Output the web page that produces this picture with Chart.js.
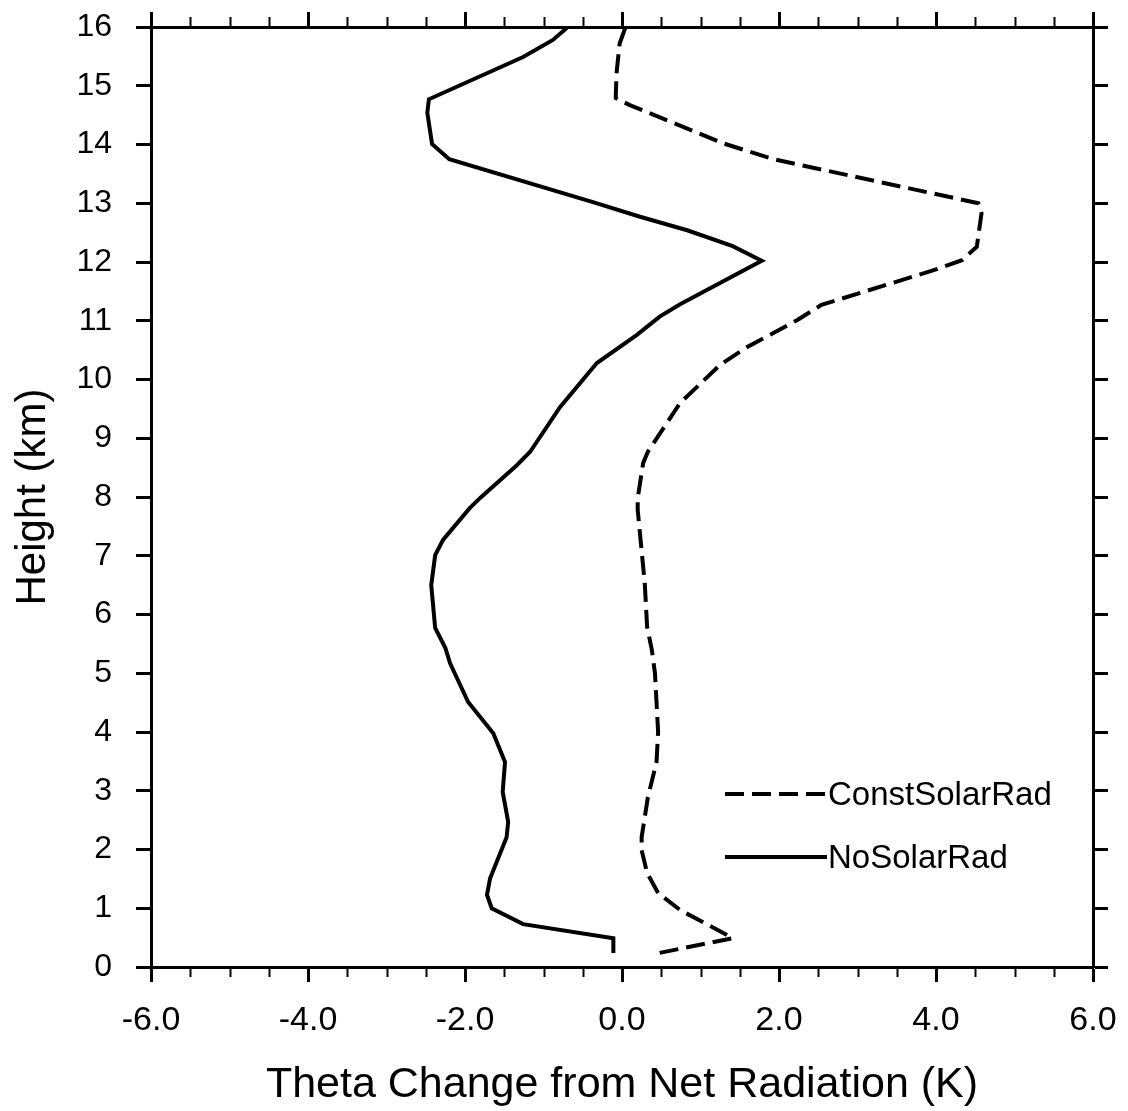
<!DOCTYPE html>
<html>
<head>
<meta charset="utf-8">
<script src="https://cdn.jsdelivr.net/npm/chart.js@4.4.1/dist/chart.umd.min.js"></script>
<style>
  html, body { margin: 0; padding: 0; background: #fff; }
  #wrap { width: 1128px; height: 1111px; position: relative; }
</style>
</head>
<body>
<div id="wrap"><canvas id="thetaChart"></canvas></div>
<script>
// values (height in km, theta change in K)
const heightNoSolar = [0.24, 0.49, 0.73, 1.0, 1.23, 1.51, 2.21, 2.47, 2.98, 3.49, 3.98, 4.51, 5.17, 5.43, 5.77, 6.5, 7.01, 7.27, 7.81, 7.98, 8.54, 8.77, 9.53, 10.28, 10.76, 11.07, 11.28, 12.02, 12.27, 12.54, 12.77, 13.02, 13.75, 14.01, 14.54, 14.77, 15.49, 15.78, 16.0];
const thetaNoSolar = [-0.11, -0.11, -1.26, -1.66, -1.72, -1.68, -1.47, -1.45, -1.52, -1.49, -1.64, -1.96, -2.19, -2.25, -2.38, -2.43, -2.38, -2.28, -1.94, -1.81, -1.34, -1.17, -0.79, -0.32, 0.19, 0.48, 0.74, 1.78, 1.41, 0.83, 0.23, -0.37, -2.2, -2.42, -2.48, -2.46, -1.26, -0.88, -0.69];

const heightConstSolar = [0.24, 0.49, 0.58, 0.97, 1.26, 1.6, 1.99, 2.21, 2.89, 3.49, 4.0, 5.0, 5.4, 5.79, 6.53, 7.78, 7.98, 8.58, 8.77, 9.6, 10.25, 10.55, 11.01, 11.27, 11.86, 12.03, 12.26, 12.83, 13.0, 13.75, 14.02, 14.67, 14.79, 15.21, 15.72, 15.98];
const thetaConstSolar = [0.48, 1.41, 1.29, 0.74, 0.46, 0.32, 0.25, 0.25, 0.33, 0.44, 0.46, 0.42, 0.38, 0.32, 0.29, 0.2, 0.2, 0.27, 0.33, 0.74, 1.25, 1.59, 2.23, 2.54, 3.97, 4.33, 4.52, 4.58, 4.54, 1.93, 1.29, 0.1, -0.08, -0.07, -0.03, 0.04];

const seriesNames = ['ConstSolarRad', 'NoSolarRad'];
const xMin = -6, xMax = 6, xMajor = 2, xMinor = 0.5;
const yMin = 0, yMax = 16, yMajor = 1;

const FONT = '"Liberation Sans", Arial, Helvetica, sans-serif';

function toPoints(xs, ys) {
    return xs.map((x, i) => ({ x: x, y: ys[i] }));
}

// fixed box size for a scale, and no extra room for overhanging labels
function fixBox(size, horizontal) {
    return s => {
        if (horizontal) s.height = size; else s.width = size;
        s.paddingTop = 0;
        s.paddingBottom = 0;
        s.paddingLeft = 0;
        s.paddingRight = 0;
    };
}

// minor ticks on the bottom and top x axes
const minorTicks = {
    id: 'minorTicks',
    afterDraw(chart) {
        const ctx = chart.ctx;
        const area = chart.chartArea;
        const sx = chart.scales.x;
        ctx.save();
        ctx.strokeStyle = '#000';
        ctx.lineWidth = 2;
        for (let v = xMin; v <= xMax + 1e-9; v += xMinor) {
            if (Math.abs(v / xMajor - Math.round(v / xMajor)) < 1e-6) continue;
            const px = Math.round(sx.getPixelForValue(v)) + 0.5;
            ctx.beginPath();
            ctx.moveTo(px, area.bottom);
            ctx.lineTo(px, area.bottom + 10);
            ctx.moveTo(px, area.top);
            ctx.lineTo(px, area.top - 10);
            ctx.stroke();
        }
        ctx.restore();
    }
};

// legend drawn inside the plot, lower right
const insideLegend = {
    id: 'insideLegend',
    afterDatasetsDraw(chart) {
        const ctx = chart.ctx;
        const area = chart.chartArea;
        const x0 = area.left + 574;
        const lineLen = 102;
        const rows = [area.top + 767, area.top + 830];
        ctx.save();
        chart.data.datasets.forEach((ds, i) => {
            const y = rows[i];
            ctx.strokeStyle = ds.borderColor;
            ctx.lineWidth = ds.borderWidth;
            ctx.setLineDash(ds.borderDash || []);
            ctx.beginPath();
            ctx.moveTo(x0, y);
            ctx.lineTo(x0 + lineLen, y);
            ctx.stroke();
            ctx.setLineDash([]);
            ctx.fillStyle = '#000';
            ctx.font = '33px ' + FONT;
            ctx.textBaseline = 'middle';
            ctx.textAlign = 'left';
            ctx.fillText(ds.label, x0 + lineLen + 1, y + 2);
        });
        ctx.restore();
    }
};

const axisGrid = {
    drawOnChartArea: false,
    drawTicks: true,
    tickLength: 15,
    tickWidth: 3,
    tickColor: '#000'
};
const axisBorder = { display: true, color: '#000', width: 3 };

const ctx = document.getElementById('thetaChart').getContext('2d');
const chart = new Chart(ctx, {
    type: 'scatter',
    data: {
        datasets: [
            {
                label: seriesNames[0],
                data: toPoints(thetaConstSolar, heightConstSolar),
                showLine: true,
                borderColor: '#000',
                borderWidth: 4,
                borderDash: [19, 8],
                pointRadius: 0,
                tension: 0
            },
            {
                label: seriesNames[1],
                data: toPoints(thetaNoSolar, heightNoSolar),
                showLine: true,
                borderColor: '#000',
                borderWidth: 4,
                pointRadius: 0,
                tension: 0
            }
        ]
    },
    options: {
        responsive: true,
        maintainAspectRatio: false,
        animation: false,
        layout: { padding: 0 },
        plugins: {
            legend: { display: false },
            tooltip: { enabled: false }
        },
        scales: {
            x: {
                type: 'linear',
                position: 'bottom',
                min: xMin, max: xMax,
                ticks: {
                    stepSize: xMajor,
                    color: '#000',
                    font: { family: FONT, size: 34 },
                    padding: 18,
                    maxRotation: 0,
                    callback: v => Number(v).toFixed(1)
                },
                grid: axisGrid,
                border: axisBorder,
                title: {
                    display: true,
                    text: 'Theta Change from Net Radiation (K)',
                    color: '#000',
                    font: { family: FONT, size: 43 },
                    padding: { top: 0, bottom: 0 }
                },
                afterFit: fixBox(144, true)
            },
            x2: {
                type: 'linear',
                position: 'top',
                min: xMin, max: xMax,
                ticks: { stepSize: xMajor, display: false },
                grid: axisGrid,
                border: axisBorder,
                afterFit: fixBox(27, true)
            },
            y: {
                type: 'linear',
                position: 'left',
                min: yMin, max: yMax,
                ticks: {
                    stepSize: yMajor,
                    color: '#000',
                    font: { family: FONT, size: 32 },
                    padding: 24
                },
                grid: axisGrid,
                border: axisBorder,
                title: {
                    display: true,
                    text: 'Height (km)',
                    color: '#000',
                    font: { family: FONT, size: 42 },
                    padding: { top: 8, bottom: 0 }
                },
                afterFit: fixBox(151, false)
            },
            y2: {
                type: 'linear',
                position: 'right',
                min: yMin, max: yMax,
                ticks: { stepSize: yMajor, display: false },
                grid: axisGrid,
                border: axisBorder,
                afterFit: fixBox(35, false)
            }
        }
    },
    plugins: [minorTicks, insideLegend]
});
</script>
</body>
</html>
